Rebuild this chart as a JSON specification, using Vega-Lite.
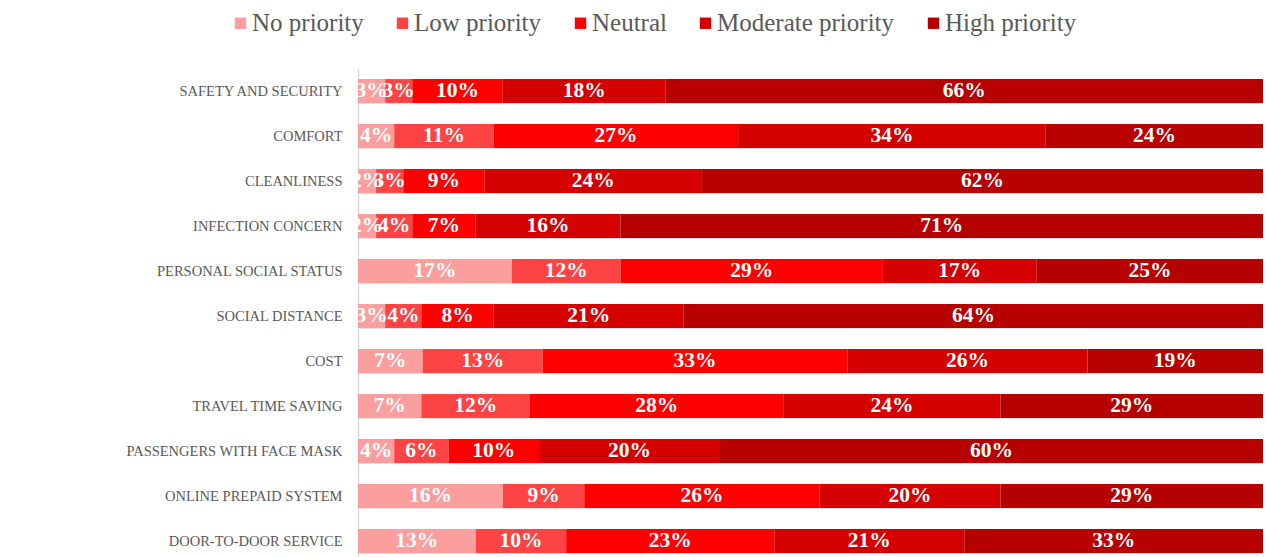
{
  "$schema": "https://vega.github.io/schema/vega-lite/v6.json",
  "autosize": {"type": "none"},
  "padding": {"left": 358, "top": 68.5, "right": 4, "bottom": 0},
  "width": 905,
  "height": 495,
  "background": "white",
  "config": {"view": {"stroke": null}},
  "data": {"values": [
    {"factor": "SAFETY AND SECURITY", "level": "No priority", "rank": 1, "share": 0.03},
    {"factor": "SAFETY AND SECURITY", "level": "Low priority", "rank": 2, "share": 0.03},
    {"factor": "SAFETY AND SECURITY", "level": "Neutral", "rank": 3, "share": 0.10},
    {"factor": "SAFETY AND SECURITY", "level": "Moderate priority", "rank": 4, "share": 0.18},
    {"factor": "SAFETY AND SECURITY", "level": "High priority", "rank": 5, "share": 0.66},
    {"factor": "COMFORT", "level": "No priority", "rank": 1, "share": 0.04},
    {"factor": "COMFORT", "level": "Low priority", "rank": 2, "share": 0.11},
    {"factor": "COMFORT", "level": "Neutral", "rank": 3, "share": 0.27},
    {"factor": "COMFORT", "level": "Moderate priority", "rank": 4, "share": 0.34},
    {"factor": "COMFORT", "level": "High priority", "rank": 5, "share": 0.24},
    {"factor": "CLEANLINESS", "level": "No priority", "rank": 1, "share": 0.02},
    {"factor": "CLEANLINESS", "level": "Low priority", "rank": 2, "share": 0.03},
    {"factor": "CLEANLINESS", "level": "Neutral", "rank": 3, "share": 0.09},
    {"factor": "CLEANLINESS", "level": "Moderate priority", "rank": 4, "share": 0.24},
    {"factor": "CLEANLINESS", "level": "High priority", "rank": 5, "share": 0.62},
    {"factor": "INFECTION CONCERN", "level": "No priority", "rank": 1, "share": 0.02},
    {"factor": "INFECTION CONCERN", "level": "Low priority", "rank": 2, "share": 0.04},
    {"factor": "INFECTION CONCERN", "level": "Neutral", "rank": 3, "share": 0.07},
    {"factor": "INFECTION CONCERN", "level": "Moderate priority", "rank": 4, "share": 0.16},
    {"factor": "INFECTION CONCERN", "level": "High priority", "rank": 5, "share": 0.71},
    {"factor": "PERSONAL SOCIAL STATUS", "level": "No priority", "rank": 1, "share": 0.17},
    {"factor": "PERSONAL SOCIAL STATUS", "level": "Low priority", "rank": 2, "share": 0.12},
    {"factor": "PERSONAL SOCIAL STATUS", "level": "Neutral", "rank": 3, "share": 0.29},
    {"factor": "PERSONAL SOCIAL STATUS", "level": "Moderate priority", "rank": 4, "share": 0.17},
    {"factor": "PERSONAL SOCIAL STATUS", "level": "High priority", "rank": 5, "share": 0.25},
    {"factor": "SOCIAL DISTANCE", "level": "No priority", "rank": 1, "share": 0.03},
    {"factor": "SOCIAL DISTANCE", "level": "Low priority", "rank": 2, "share": 0.04},
    {"factor": "SOCIAL DISTANCE", "level": "Neutral", "rank": 3, "share": 0.08},
    {"factor": "SOCIAL DISTANCE", "level": "Moderate priority", "rank": 4, "share": 0.21},
    {"factor": "SOCIAL DISTANCE", "level": "High priority", "rank": 5, "share": 0.64},
    {"factor": "COST", "level": "No priority", "rank": 1, "share": 0.07},
    {"factor": "COST", "level": "Low priority", "rank": 2, "share": 0.13},
    {"factor": "COST", "level": "Neutral", "rank": 3, "share": 0.33},
    {"factor": "COST", "level": "Moderate priority", "rank": 4, "share": 0.26},
    {"factor": "COST", "level": "High priority", "rank": 5, "share": 0.19},
    {"factor": "TRAVEL TIME SAVING", "level": "No priority", "rank": 1, "share": 0.07},
    {"factor": "TRAVEL TIME SAVING", "level": "Low priority", "rank": 2, "share": 0.12},
    {"factor": "TRAVEL TIME SAVING", "level": "Neutral", "rank": 3, "share": 0.28},
    {"factor": "TRAVEL TIME SAVING", "level": "Moderate priority", "rank": 4, "share": 0.24},
    {"factor": "TRAVEL TIME SAVING", "level": "High priority", "rank": 5, "share": 0.29},
    {"factor": "PASSENGERS WITH FACE MASK", "level": "No priority", "rank": 1, "share": 0.04},
    {"factor": "PASSENGERS WITH FACE MASK", "level": "Low priority", "rank": 2, "share": 0.06},
    {"factor": "PASSENGERS WITH FACE MASK", "level": "Neutral", "rank": 3, "share": 0.10},
    {"factor": "PASSENGERS WITH FACE MASK", "level": "Moderate priority", "rank": 4, "share": 0.20},
    {"factor": "PASSENGERS WITH FACE MASK", "level": "High priority", "rank": 5, "share": 0.60},
    {"factor": "ONLINE PREPAID SYSTEM", "level": "No priority", "rank": 1, "share": 0.16},
    {"factor": "ONLINE PREPAID SYSTEM", "level": "Low priority", "rank": 2, "share": 0.09},
    {"factor": "ONLINE PREPAID SYSTEM", "level": "Neutral", "rank": 3, "share": 0.26},
    {"factor": "ONLINE PREPAID SYSTEM", "level": "Moderate priority", "rank": 4, "share": 0.20},
    {"factor": "ONLINE PREPAID SYSTEM", "level": "High priority", "rank": 5, "share": 0.29},
    {"factor": "DOOR-TO-DOOR SERVICE", "level": "No priority", "rank": 1, "share": 0.13},
    {"factor": "DOOR-TO-DOOR SERVICE", "level": "Low priority", "rank": 2, "share": 0.10},
    {"factor": "DOOR-TO-DOOR SERVICE", "level": "Neutral", "rank": 3, "share": 0.23},
    {"factor": "DOOR-TO-DOOR SERVICE", "level": "Moderate priority", "rank": 4, "share": 0.21},
    {"factor": "DOOR-TO-DOOR SERVICE", "level": "High priority", "rank": 5, "share": 0.33}
  ]},
  "encoding": {
    "y": {
      "field": "factor", "type": "nominal", "sort": null,
      "scale": {"paddingInner": 0.47, "paddingOuter": 0.235},
      "axis": {
        "title": null, "labelFont": "Liberation Serif", "labelFontSize": 14.5,
        "labelColor": "#595959", "labelPadding": 16, "labelLimit": 400, "ticks": false,
        "domain": true, "domainColor": "#d9d9d9", "domainWidth": 1.5,
        "grid": true, "gridColor": "#d9d9d9", "gridWidth": 1.5, "tickBand": "extent"
      }
    },
    "order": {"field": "rank", "type": "quantitative"}
  },
  "layer": [
    {
      "mark": {"type": "bar"},
      "encoding": {
        "x": {"field": "share", "type": "quantitative", "stack": "normalize", "axis": null, "scale": {"domain": [0, 1], "nice": false}},
        "color": {
          "field": "level", "type": "nominal",
          "scale": {
            "domain": ["No priority", "Low priority", "Neutral", "Moderate priority", "High priority"],
            "range": ["#fa9e9e", "#fd4343", "#ff0000", "#d50000", "#b70000"]
          },
          "legend": {
            "title": null, "orient": "none", "direction": "horizontal",
            "legendX": -130, "legendY": -58,
            "symbolType": "square", "symbolSize": 130, "symbolStrokeWidth": 0,
            "labelFont": "Liberation Serif", "labelFontSize": 25, "labelColor": "#595959",
            "labelOffset": -1, "columnPadding": 26, "labelLimit": 400
          }
        }
      }
    },
    {
      "mark": {"type": "text", "color": "white", "font": "Liberation Serif", "fontSize": 21.5, "fontWeight": "bold", "baseline": "middle", "align": "center"},
      "encoding": {
        "x": {"field": "share", "type": "quantitative", "stack": "normalize", "bandPosition": 0.5},
        "text": {"field": "share", "type": "quantitative", "format": ".0%"}
      }
    }
  ]
}
